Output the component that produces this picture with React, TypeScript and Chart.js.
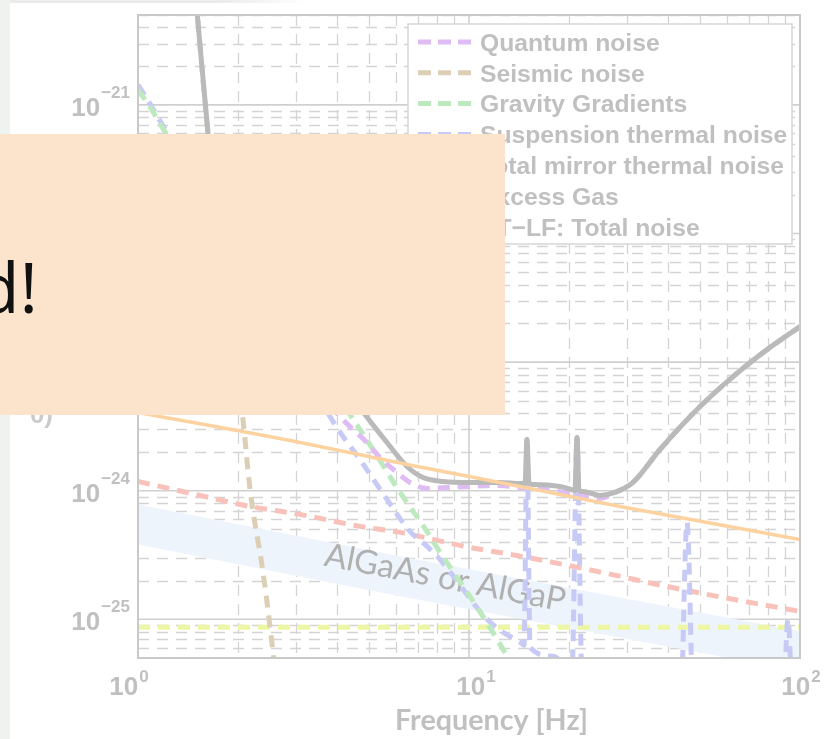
import React, { useEffect, useRef } from "react";
import { Chart, registerables } from "chart.js";

Chart.register(...registerables);

// ---------- axes ----------
const freqRange = [1, 100];
const strainRange = [5.1e-26, 5.0e-21];
const xTickExponents = [0, 1, 2];
const xTickLabelShift = [-9, 7, 1];
const yTickExponents = [-21, -22, -23, -24, -25];
const xAxisTitle = "Frequency [Hz]";
const bandLabel = "AlGaAs or AlGaP";

const legendLabels = [
  "Quantum noise",
  "Seismic noise",
  "Gravity Gradients",
  "Suspension thermal noise",
  "Total mirror thermal noise",
  "Excess Gas",
  "ET\u2212LF: Total noise",
];

// ---------- data (frequency in Hz, strain in 1/sqrt(Hz)) ----------
const totalFreq = [1.497, 1.627, 1.673, 1.745, 1.87, 2.033, 2.505, 3.086, 3.802, 4.851, 5.652, 6.497, 7.262, 8.35, 10.07, 12.41, 14.36, 14.77, 14.97, 15.18, 15.61, 18.83, 20.33, 20.9, 21.2, 21.49, 22.11, 24.87, 27.61, 31.3, 37.76, 49.88, 62.77, 79.5, 100];
const totalNoise = [6.54e-21, 6.06e-22, 3.13e-22, 1.83e-22, 1.234e-22, 9.27e-23, 4.375e-23, 2.065e-23, 9.57e-24, 3.91e-24, 2.371e-24, 1.543e-24, 1.268e-24, 1.18e-24, 1.159e-24, 1.159e-24, 1.138e-24, 1.138e-24, 2.5e-24, 1.138e-24, 1.119e-24, 1.079e-24, 1.023e-24, 1.005e-24, 2.594e-24, 1.005e-24, 9.86e-25, 9.19e-25, 9.69e-25, 1.159e-24, 2.09e-24, 4.51e-24, 7.72e-24, 1.25e-23, 1.887e-23];

const quantumFreq = [1, 2.18, 4.02, 4.46, 4.92, 5.38, 6.06, 6.63, 7.47, 8.76, 10.07, 12.15, 14.26, 16.97, 20.19, 24.87, 27.61, 31.3, 37.76, 49.88, 62.77, 79.5, 100];
const quantumNoise = [4.47e-22, 3.06e-23, 3.91e-24, 2.99e-24, 2.37e-24, 1.81e-24, 1.386e-24, 1.159e-24, 1.041e-24, 1.06e-24, 1.079e-24, 1.099e-24, 1.06e-24, 1.023e-24, 9.52e-25, 8.71e-25, 9.69e-25, 1.159e-24, 2.09e-24, 4.51e-24, 7.72e-24, 1.25e-23, 1.887e-23];

const seismicFreq = [1.497, 1.627, 2.076, 2.18, 2.386, 2.505, 2.612];
const seismicNoise = [6.54e-21, 6.06e-22, 3.57e-24, 1.02e-24, 2.32e-25, 8.8e-26, 3.42e-26];

const gravityFreq = [1, 1.087, 1.166, 2.18, 4.37, 5.13, 6.19, 7.36, 8.0, 11.02, 12.67, 13.77];
const gravityNoise = [1.307e-21, 9.65e-22, 7.12e-22, 6.03e-23, 3.91e-24, 2.09e-24, 9.69e-25, 5.09e-25, 3.62e-25, 1.055e-25, 5.85e-26, 4.09e-26];

const suspensionFreq = [1, 1.087, 1.166, 2.18, 3.99, 4.75, 5.652, 6.63, 7.47, 8.17, 11.34, 12.67, 14.26, 14.66, 14.97, 15.29, 17.94, 20.47, 21.2, 21.95, 43.4, 45.57, 47.85, 88.2, 91.99, 95.9, 100];
const suspensionNoise = [1.43e-21, 1.018e-21, 7.51e-22, 4.375e-23, 3.1e-24, 1.657e-24, 8.55e-25, 4.83e-25, 3.69e-25, 2.92e-25, 1.0e-25, 7.92e-26, 6.63e-26, 6.28e-26, 2.5e-24, 6.06e-26, 5.16e-26, 3.94e-26, 2.594e-24, 3.67e-26, 1.53e-26, 5.67e-25, 1.476e-26, 1.17e-26, 1.0e-25, 1.13e-26, 1.09e-26];

const mirrorFreq = [1, 1.406, 2.18, 3.086, 4.687, 6.19, 10.07, 13.3, 17.94, 24.36, 39.64, 62.77, 100];
const mirrorNoise = [1.18e-24, 9.69e-25, 7.54e-25, 6.54e-25, 5.28e-25, 4.74e-25, 3.62e-25, 3.2e-25, 2.77e-25, 2.36e-25, 1.8e-25, 1.43e-25, 1.153e-25];

const gasFreq = [1, 10, 100];
const gasNoise = [8.67e-26, 8.67e-26, 8.67e-26];

const coatingFreq = [1, 3.086, 6.497, 14.26, 28.59, 100];
const coatingNoise = [4.06e-24, 2.37e-24, 1.6e-24, 1.079e-24, 7.54e-25, 4.18e-25];

const bandFreq = [1, 6.19, 100];
const bandUpper = [7.82e-25, 3.09e-25, 8.07e-26];
const bandLower = [3.82e-25, 1.51e-25, 3.94e-26];

// ---------- styles ----------
const seriesStyles = [
  { label: legendLabels[0], color: "#e0bcf4", width: 5, dash: [12, 8] },
  { label: legendLabels[1], color: "#dccfb6", width: 5, dash: [12, 8] },
  { label: legendLabels[2], color: "#bde9be", width: 5, dash: [12, 8] },
  { label: legendLabels[3], color: "#c8caf6", width: 5, dash: [12, 8] },
  { label: legendLabels[4], color: "#f8c2ba", width: 5, dash: [12, 8] },
  { label: legendLabels[5], color: "#edf6a2", width: 5, dash: [12, 8] },
  { label: legendLabels[6], color: "#bababa", width: 5, dash: [] as number[] },
];
const coatingColor = "#fcd3a0";
const bandColor = "#eef4fc";
const TEXT_GREY = "#c0c0c0";
const BAND_TOP_ID = "band-upper";

const pts = (f: number[], v: number[]) => f.map((x, i) => ({ x, y: v[i] }));

function lineDataset(label: string, f: number[], v: number[], style: { color: string; width: number; dash: number[] }) {
  return {
    label,
    data: pts(f, v),
    borderColor: style.color,
    backgroundColor: style.color,
    borderWidth: style.width,
    borderDash: style.dash,
    borderCapStyle: "butt",
    pointRadius: 0,
    fill: false,
    cubicInterpolationMode: "monotone",
  };
}

function drawGrid(chart: any) {
  const { ctx, chartArea: a } = chart;
  const xs = chart.scales.x;
  const ys = chart.scales.y;
  ctx.save();
  ctx.beginPath();
  ctx.rect(a.left, a.top, a.right - a.left, a.bottom - a.top);
  ctx.clip();
  ctx.strokeStyle = "#d4d4d4";
  ctx.lineWidth = 1.3;
  ctx.setLineDash([11, 8]);
  for (let k = 0; k < 2; k++) {
    for (let m = 2; m <= 9; m++) {
      const px = Math.round(xs.getPixelForValue(m * Math.pow(10, k))) + 0.5;
      ctx.beginPath();
      ctx.moveTo(px, a.top);
      ctx.lineTo(px, a.bottom);
      ctx.stroke();
    }
  }
  for (let k = -27; k <= -21; k++) {
    for (let m = 2; m <= 9; m++) {
      const v = m * Math.pow(10, k);
      if (v < strainRange[0] || v > strainRange[1]) continue;
      const py = Math.round(ys.getPixelForValue(v)) + 0.5;
      ctx.beginPath();
      ctx.moveTo(a.left, py);
      ctx.lineTo(a.right, py);
      ctx.stroke();
    }
  }
  ctx.setLineDash([]);
  ctx.strokeStyle = "#d0d0d0";
  ctx.lineWidth = 1.6;
  for (const e of xTickExponents) {
    const px = xs.getPixelForValue(Math.pow(10, e));
    ctx.beginPath();
    ctx.moveTo(px, a.top);
    ctx.lineTo(px, a.bottom);
    ctx.stroke();
  }
  for (const e of yTickExponents) {
    const py = ys.getPixelForValue(Math.pow(10, e));
    ctx.beginPath();
    ctx.moveTo(a.left, py);
    ctx.lineTo(a.right, py);
    ctx.stroke();
  }
  ctx.restore();
}

function drawPower(ctx: CanvasRenderingContext2D, exp: number, anchorX: number, baseline: number, align: "right" | "center", supRise: number) {
  const base = "10";
  const sup = exp < 0 ? "\u2212" + String(-exp) : String(exp);
  const big = "bold 26px 'Liberation Sans', Arial, sans-serif";
  const small = "bold 17px 'Liberation Sans', Arial, sans-serif";
  ctx.font = big;
  const w1 = ctx.measureText(base).width;
  ctx.font = small;
  const w2 = ctx.measureText(sup).width;
  const total = w1 + 1 + w2;
  const x0 = align === "right" ? anchorX - total : anchorX - total / 2;
  ctx.textAlign = "left";
  ctx.textBaseline = "alphabetic";
  ctx.fillStyle = TEXT_GREY;
  ctx.font = big;
  ctx.fillText(base, x0, baseline);
  ctx.font = small;
  ctx.fillText(sup, x0 + w1 + 1, baseline - supRise);
}

function drawBandText(chart: any) {
  const { ctx } = chart;
  const xs = chart.scales.x;
  const ys = chart.scales.y;
  const p0 = { x: xs.getPixelForValue(bandFreq[0]), y: ys.getPixelForValue(bandUpper[0]) };
  const p2 = { x: xs.getPixelForValue(bandFreq[2]), y: ys.getPixelForValue(bandUpper[2]) };
  const angle = Math.atan2(p2.y - p0.y, p2.x - p0.x);
  const cx = xs.getPixelForValue(8.4);
  const mid = xs.getPixelForValue(bandFreq[1]);
  const up1 = ys.getPixelForValue(bandUpper[1]);
  const up2 = ys.getPixelForValue(bandUpper[2]);
  const lo1 = ys.getPixelForValue(bandLower[1]);
  const lo2 = ys.getPixelForValue(bandLower[2]);
  const t = (cx - mid) / (p2.x - mid);
  const cy = ((up1 + (up2 - up1) * t) + (lo1 + (lo2 - lo1) * t)) / 2;
  ctx.save();
  ctx.font = "100px Lato, sans-serif";
  const w100 = ctx.measureText(bandLabel).width;
  const size = (245 / w100) * 100;
  ctx.font = `${size.toFixed(1)}px Lato, sans-serif`;
  ctx.translate(cx, cy);
  ctx.rotate(angle);
  ctx.fillStyle = "#b0b0b0";
  ctx.textAlign = "center";
  ctx.textBaseline = "alphabetic";
  ctx.fillText(bandLabel, 0, 4);
  ctx.restore();
}

function drawDecor(chart: any) {
  const { ctx, chartArea: a } = chart;
  const xs = chart.scales.x;
  const ys = chart.scales.y;
  ctx.save();
  // frame
  ctx.strokeStyle = "#c9c9c9";
  ctx.lineWidth = 2;
  ctx.strokeRect(a.left, a.top, a.right - a.left, a.bottom - a.top);

  // legend
  const lx = a.right - 392;
  const ly = a.top + 9;
  const lw = 384;
  const lh = 220;
  ctx.fillStyle = "#ffffff";
  ctx.fillRect(lx, ly, lw, lh);
  ctx.strokeStyle = "#d6d6d6";
  ctx.lineWidth = 1.5;
  ctx.strokeRect(lx, ly, lw, lh);
  seriesStyles.forEach((s, i) => {
    const cy = ly + 18 + i * 30.8;
    ctx.strokeStyle = s.color;
    ctx.lineWidth = 5;
    ctx.setLineDash(s.dash.length ? [13, 7] : []);
    ctx.beginPath();
    ctx.moveTo(lx + 10, cy);
    ctx.lineTo(lx + 64, cy);
    ctx.stroke();
    ctx.setLineDash([]);
    ctx.fillStyle = TEXT_GREY;
    ctx.font = "bold 24.7px 'Liberation Sans', Arial, sans-serif";
    ctx.textAlign = "left";
    ctx.textBaseline = "alphabetic";
    ctx.fillText(s.label, lx + 72, cy + 8.7);
  });

  // y tick labels
  for (const e of yTickExponents) {
    const py = ys.getPixelForValue(Math.pow(10, e));
    drawPower(ctx, e, a.left - 8, py + 11, "right", 18);
  }
  // x tick labels
  xTickExponents.forEach((e, i) => {
    const px = xs.getPixelForValue(Math.pow(10, e));
    drawPower(ctx, e, px + xTickLabelShift[i], a.bottom + 37, "center", 13);
  });
  // axis title
  ctx.font = "bold 100px Lato, sans-serif";
  const tw = ctx.measureText(xAxisTitle).width;
  ctx.font = `bold ${((193 / tw) * 100).toFixed(1)}px Lato, sans-serif`;
  ctx.fillStyle = TEXT_GREY;
  ctx.textAlign = "center";
  ctx.fillText(xAxisTitle, a.left + (a.right - a.left) * 0.534, a.bottom + 72);
  ctx.restore();
}

const decorPlugin = {
  id: "decor",
  beforeDatasetsDraw(chart: any) {
    drawGrid(chart);
  },
  afterDatasetDraw(chart: any, args: any) {
    if (chart.data.datasets[args.index].id === BAND_TOP_ID) drawBandText(chart);
  },
  afterDatasetsDraw(chart: any) {
    drawDecor(chart);
  },
};

function buildConfig(): any {
  const datasets: any[] = [
    lineDataset("coating", coatingFreq, coatingNoise, { color: coatingColor, width: 3.5, dash: [] }),
    lineDataset(seriesStyles[6].label, totalFreq, totalNoise, seriesStyles[6]),
    lineDataset(seriesStyles[0].label, quantumFreq, quantumNoise, seriesStyles[0]),
    lineDataset(seriesStyles[1].label, seismicFreq, seismicNoise, seriesStyles[1]),
    lineDataset(seriesStyles[2].label, gravityFreq, gravityNoise, seriesStyles[2]),
    lineDataset(seriesStyles[3].label, suspensionFreq, suspensionNoise, seriesStyles[3]),
    lineDataset(seriesStyles[4].label, mirrorFreq, mirrorNoise, seriesStyles[4]),
    lineDataset(seriesStyles[5].label, gasFreq, gasNoise, seriesStyles[5]),
    {
      id: BAND_TOP_ID,
      label: bandLabel,
      data: pts(bandFreq, bandUpper),
      borderWidth: 0,
      pointRadius: 0,
      backgroundColor: bandColor,
      borderColor: bandColor,
      fill: "+1",
      tension: 0,
    },
    {
      label: bandLabel + " lower",
      data: pts(bandFreq, bandLower),
      borderWidth: 0,
      pointRadius: 0,
      borderColor: bandColor,
      fill: false,
      tension: 0,
    },
  ];
  return {
    type: "line",
    data: { datasets },
    options: {
      animation: false,
      responsive: false,
      maintainAspectRatio: false,
      events: [],
      layout: { padding: { left: 138, top: 15, right: 27, bottom: 81 } },
      plugins: { legend: { display: false }, tooltip: { enabled: false } },
      scales: {
        x: { type: "logarithmic", min: freqRange[0], max: freqRange[1], display: false },
        y: { type: "logarithmic", min: strainRange[0], max: strainRange[1], display: false },
      },
    },
    plugins: [decorPlugin],
  };
}

export default function App() {
  const ref = useRef<HTMLCanvasElement | null>(null);
  useEffect(() => {
    const canvas = ref.current;
    if (!canvas) return;
    let chart: Chart | null = null;
    let cancelled = false;
    const fonts = ["bold 24px 'Liberation Sans'", "bold 26px Lato", "30px Lato"];
    Promise.all(fonts.map((f) => (document as any).fonts.load(f).catch(() => null))).then(() => {
      if (cancelled) return;
      chart = new Chart(canvas, buildConfig());
    });
    return () => {
      cancelled = true;
      if (chart) chart.destroy();
    };
  }, []);

  return (
    <div style={{ position: "fixed", left: 0, top: 0, width: 827, height: 739, background: "#ffffff", overflow: "hidden" }}>
      <div style={{ position: "absolute", left: 0, top: 0, width: 10, height: 739, background: "#eef3ef" }} />
      <div style={{ position: "absolute", left: 10, top: 0, width: 300, height: 3, background: "linear-gradient(90deg, #ebebeb, #ebebeb 70%, #ffffff)" }} />
      <canvas ref={ref} width={827} height={739} style={{ position: "absolute", left: 0, top: 0, width: 827, height: 739 }} />
      <svg width={827} height={739} style={{ position: "absolute", left: 0, top: 0, pointerEvents: "none" }}>
        <text x={53} y={423} textAnchor="end" fill="#cbcbcb" style={{ font: "bold 26px 'Liberation Sans', Arial, sans-serif" }}>0)</text>
        <rect x={0} y={134} width={505} height={281} fill="#fce4cc" />
        <text x={38} y={313} textAnchor="end" fill="#111111" style={{ font: "70px 'Open Sans', sans-serif" }}>d!</text>
      </svg>
    </div>
  );
}
